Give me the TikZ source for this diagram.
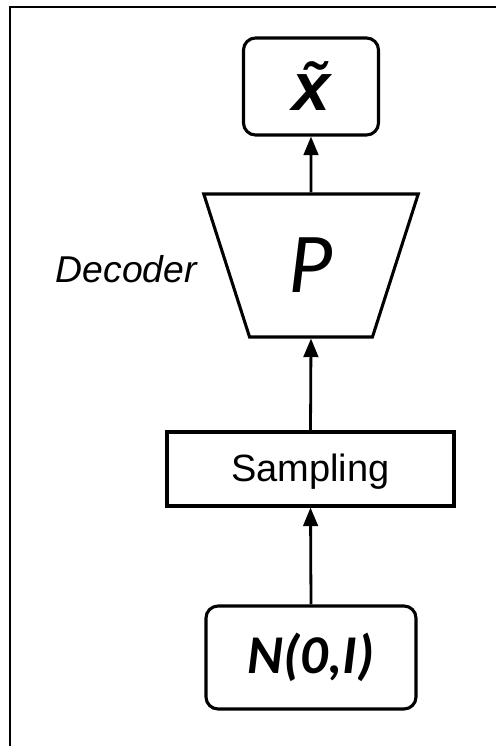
\documentclass[tikz,border=0pt]{standalone}
\usepackage{fontspec}
\setmainfont{Liberation Sans}
\newfontfamily\calibrifont{Carlito}
\usetikzlibrary{
  arrows.meta,
  shapes.geometric,
  positioning
}
\tikzset{
  vaenode/.style={
    draw, line width=2.3pt, inner sep=0pt, align=center
  },
  iobox/.style={vaenode, rounded corners=9pt},
  opbox/.style={vaenode},
  decoder/.style={
    vaenode, trapezium, shape border rotate=180, trapezium angle=73.3,
    trapezium stretches=true, minimum width=161.25pt, minimum height=107.25pt
  },
  flow/.style={-{Triangle[length=14pt, width=11pt]}, line width=2.1pt},
  frameline/.style={line width=1.3pt},
  tag/.style={font=\fontsize{28}{30}\selectfont\itshape, inner sep=0pt}
}

\begin{document}
\begin{tikzpicture}[x=0.75pt, y=-0.75pt]
  \useasboundingbox (0,0) rectangle (496,746);
  \draw[frameline] (10,746) -- (10,7) -- (496,7);
  \node[iobox, minimum width=101.25pt, minimum height=72.75pt,
        font=\fontsize{51}{55}\selectfont\bfseries\itshape] (xt) at (311,86.5) {\~{x}};
  \node[decoder, font=\fontsize{64}{68}\selectfont\calibrifont\itshape] (dec) at (311,265.5) {P};
  \node[tag, anchor=east] (declabel) at (197,269) {Decoder};
  \node[opbox, minimum width=215.25pt, minimum height=55.5pt, text depth=2pt,
        font=\fontsize{28.5}{30}\selectfont] (samp) at (310.5,469) {Sampling};
  \node[iobox, minimum width=157.5pt, minimum height=77.25pt,
        font=\fontsize{41}{45}\selectfont\calibrifont\bfseries\itshape] (prior) at (311,657.5) {N(0,I)};
  \draw[flow] (dec.north) -- (xt.south);
  \draw[flow] (samp.north) -- (dec.south);
  \draw[flow] (prior.north) -- (samp.south);
\end{tikzpicture}
\end{document}
